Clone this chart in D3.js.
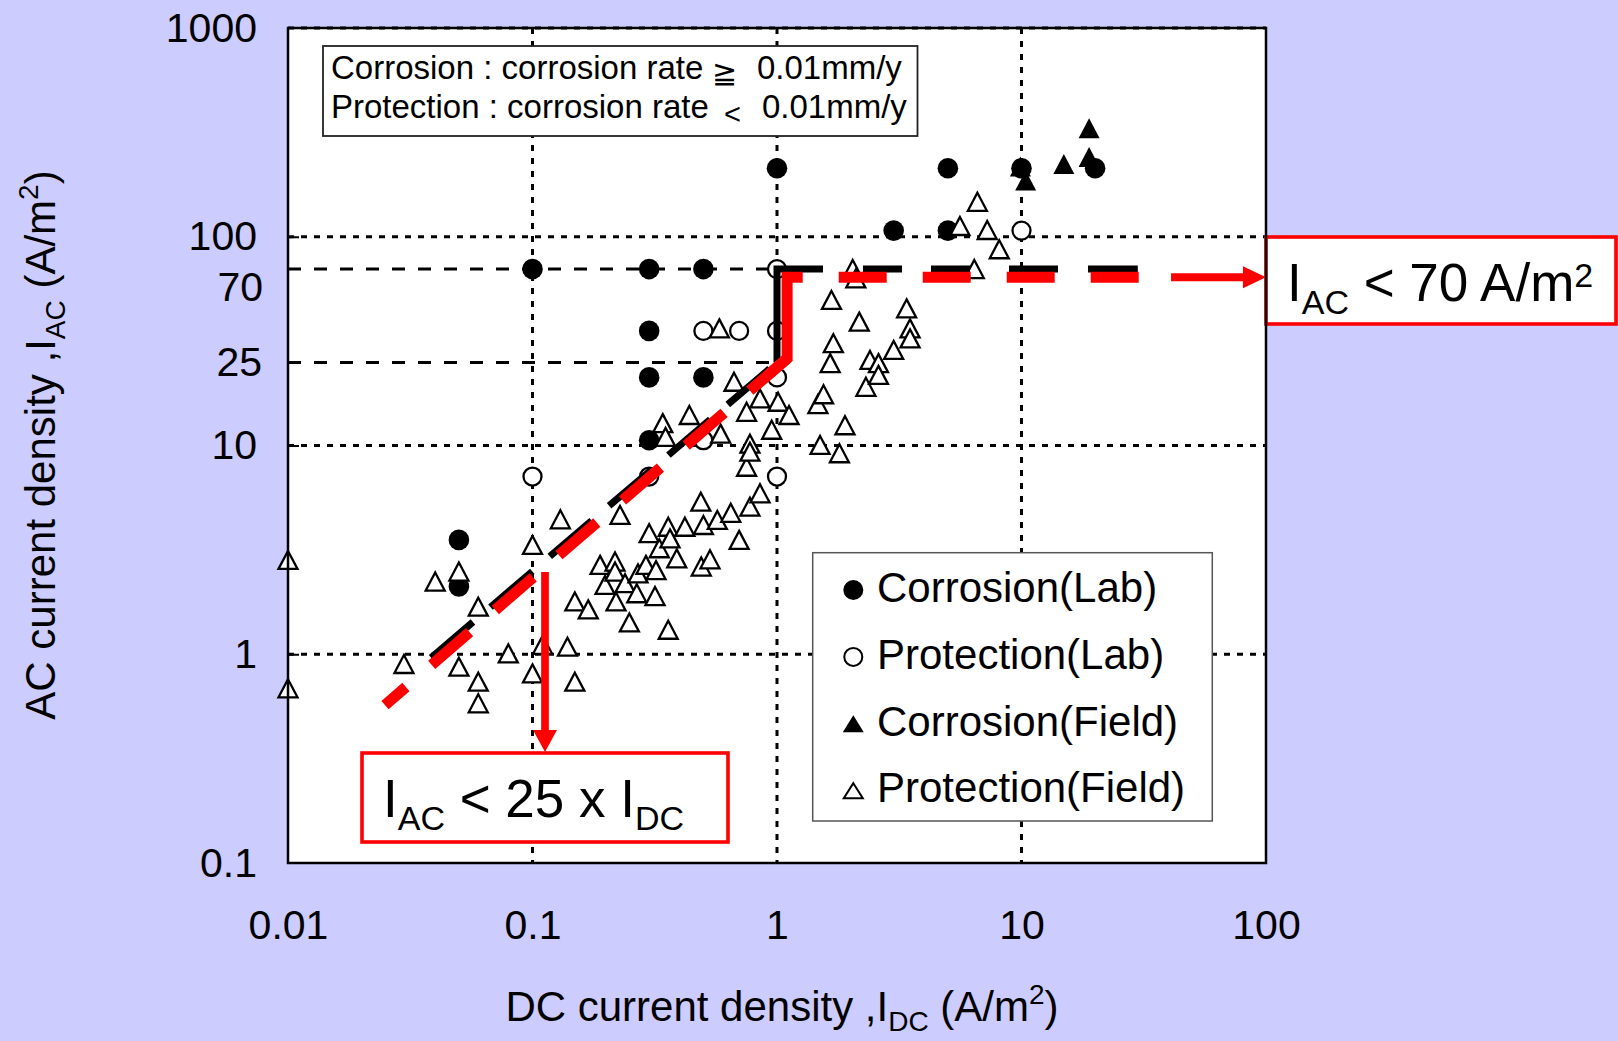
<!DOCTYPE html>
<html><head><meta charset="utf-8">
<script src="https://cdn.jsdelivr.net/npm/d3@7"></script>
<style>html,body{margin:0;padding:0;background:#CCCCFF;} svg{display:block}</style>
</head><body>
<svg id="c" width="1618" height="1041"></svg>
<script>
// ---------- data ----------
const xTicks = [0.01, 0.1, 1, 10, 100];
const xTickLabels = ["0.01", "0.1", "1", "10", "100"];
const yTicks = [0.1, 1, 10, 25, 70, 100, 1000];
const yTickLabels = ["0.1", "1", "10", "25", "70", "100", "1000"];
const gridX = [0.1, 1, 10];
const gridY = [1, 10, 100, 1000];
const refLevels = [25, 70];

const corrosionLab = [
  [0.1,70],[0.3,70],[0.5,70],[0.3,35.4],[0.3,21.2],[0.5,21.2],[0.3,10.6],
  [1,213],[5,213],[10,213],[20,213],[3,107],[5,107],[0.05,3.53],[0.05,2.11]
];
const protectionLab = [
  [1,70],[0.5,35.4],[0.7,35.4],[1,35.4],[1,21.2],[0.5,10.6],[0.1,7.1],[0.3,7.1],[1,7.1],[10,107]
];
const corrosionField = [[9.9,217],[10.4,186],[14.9,223],[18.9,241],[18.9,331]];
const protectionField = [
  [0.01,2.83],[0.01,0.687],
  [0.0298,0.898],[0.04,2.23],[0.05,2.49],[0.05,0.872],[0.06,1.69],[0.06,0.739],[0.06,0.582],
  [0.0796,1.01],[0.1,3.34],[0.1,0.81],[0.11,1.11],[0.13,4.43],[0.139,1.087],[0.149,0.739],
  [0.149,1.79],[0.169,1.64],[0.189,2.68],[0.198,2.15],[0.2175,2.78],[0.2175,2.49],[0.2196,1.79],
  [0.228,4.65],[0.239,2.19],[0.249,1.42],[0.267,1.96],[0.27,2.44],[0.291,2.68],[0.3,3.80],
  [0.317,1.90],[0.32,2.53],[0.33,3.22],[0.359,4.08],[0.359,1.31],[0.365,3.59],[0.389,2.88],
  [0.42,4.08],[0.488,5.38],[0.49,2.63],[0.5,4.16],[0.532,2.85],[0.57,4.40],[0.647,4.76],
  [0.70,3.53],[0.775,5.09],[0.852,5.90],[0.751,7.91],
  [0.341,12.8],[0.35,11.0],[0.438,14.0],[0.588,11.4],[0.581,36.4],[0.667,20.2],[0.751,14.5],
  [0.775,10.2],[0.775,9.34],[0.852,16.8],[0.951,11.9],[1.01,16.2],[1.12,14.0],
  [1.47,15.8],[1.55,17.6],[1.5,10.06],[1.80,9.18],[1.897,12.5],[1.65,24.8],[1.70,30.9],
  [1.67,49.8],[2.04,70],[2.1,63.2],[2.17,39.2],[2.31,19.1],[2.40,25.7],[2.60,24.8],[2.60,21.8],
  [3.0,28.7],[3.39,45.4],[3.5,36.4],[3.5,32.6],
  [5.6,112.6],[6.6,147],[7.24,107.7],[8.11,87.1],[6.41,70]
];

// criterion lines (data coords)
const blackDiag = [[0.0385,0.9625],[1,25]];
const blackStep = [[1,25],[1,70],[1.542,70]];
const blackHoriz = [[1.542,70],[29.9,70]];
const redDiag = [[0.02493,0.571],[1.1,26.1]];
const redStep = [[1.1,26.1],[1.1,64],[1.274,64]];
const redHoriz = [[1.274,64],[40.9,64]];
const redArrowH = [[40.9,64],[80.5,64],[100,64]];   // shaft start, head base, tip
const redArrowV = [[0.1125,2.48],[0.1125,0.434],[0.1125,0.34]];

const legendItems = ["Corrosion(Lab)","Protection(Lab)","Corrosion(Field)","Protection(Field)"];

// ---------- setup ----------
const FONT = '"Liberation Sans", Arial, Helvetica, sans-serif';
const W = 1618, H = 1041;
const x = d3.scaleLog().domain([0.01, 100]).range([288, 1266]);
const y = d3.scaleLog().domain([0.1, 1000]).range([863, 28]);
const svg = d3.select('#c');
const line = d3.line().x(d => x(d[0])).y(d => y(d[1]));

svg.append('rect').attr('width', W).attr('height', H).attr('fill', '#CCCCFF');
svg.append('rect').attr('x', x(0.01)).attr('y', y(1000))
  .attr('width', x(100) - x(0.01)).attr('height', y(0.1) - y(1000)).attr('fill', '#fff');

// grid
const g = svg.append('g').attr('stroke', '#000').attr('stroke-width', 3).attr('stroke-dasharray', '6 7');
gridX.forEach(v => g.append('line').attr('x1', x(v)).attr('x2', x(v)).attr('y1', y(1000)).attr('y2', y(0.1)));
gridY.forEach(v => g.append('line').attr('x1', x(0.01)).attr('x2', x(100)).attr('y1', y(v)).attr('y2', y(v)));

// reference dashed levels
refLevels.forEach(v => svg.append('line').attr('x1', x(0.01)).attr('x2', x(0.93))
  .attr('y1', y(v)).attr('y2', y(v)).attr('stroke', '#000').attr('stroke-width', 3).attr('stroke-dasharray', '13 13'));

// top definition box
const tb = svg.append('g');
tb.append('rect').attr('x', 323).attr('y', 46).attr('width', 594.5).attr('height', 90)
  .attr('fill', '#fff').attr('stroke', '#222').attr('stroke-width', 1.8);
const t1 = tb.append('text').attr('font-family', FONT).attr('font-size', 33).attr('fill', '#000');
t1.append('tspan').attr('x', 331).attr('y', 79).text('Corrosion : corrosion rate');
t1.append('tspan').attr('x', 712).attr('y', 83).attr('font-family', '"DejaVu Sans", sans-serif').attr('font-size', 30).text('≧');
t1.append('tspan').attr('x', 757).attr('y', 79).attr('font-family', FONT).attr('font-size', 33).text('0.01mm/y');
const t2 = tb.append('text').attr('font-family', FONT).attr('font-size', 33).attr('fill', '#000');
t2.append('tspan').attr('x', 331).attr('y', 118).text('Protection : corrosion rate');
t2.append('tspan').attr('x', 724).attr('y', 124).attr('font-size', 29).text('<');
t2.append('tspan').attr('x', 762).attr('y', 118).attr('font-size', 33).text('0.01mm/y');

// markers
const tri = (w, h) => `M0,${-h / 2}L${w / 2},${h / 2}L${-w / 2},${h / 2}Z`;
const mk = svg.append('g');
mk.selectAll('.cl').data(corrosionLab).join('circle')
  .attr('cx', d => x(d[0])).attr('cy', d => y(d[1])).attr('r', 10.3).attr('fill', '#000');
mk.selectAll('.pl').data(protectionLab).join('circle').attr('class', 'pl')
  .attr('cx', d => x(d[0])).attr('cy', d => y(d[1])).attr('r', 9).attr('fill', '#fff')
  .attr('stroke', '#000').attr('stroke-width', 2.3);
mk.selectAll('.cf').data(corrosionField).join('path').attr('class', 'cf')
  .attr('d', tri(21, 20)).attr('transform', d => `translate(${x(d[0])},${y(d[1])})`).attr('fill', '#000');
mk.selectAll('.pf').data(protectionField).join('path').attr('class', 'pf')
  .attr('d', tri(19, 18)).attr('transform', d => `translate(${x(d[0])},${y(d[1])})`)
  .attr('fill', '#fff').attr('stroke', '#000').attr('stroke-width', 2.3).attr('stroke-linejoin', 'miter');

// black criterion
svg.append('path').attr('d', line(blackDiag)).attr('fill', 'none').attr('stroke', '#000')
  .attr('stroke-width', 7).attr('stroke-dasharray', '55 23');
svg.append('path').attr('d', line(blackStep)).attr('fill', 'none').attr('stroke', '#000')
  .attr('stroke-width', 7).attr('stroke-linejoin', 'miter');
svg.append('path').attr('d', line(blackHoriz)).attr('fill', 'none').attr('stroke', '#000')
  .attr('stroke-width', 7).attr('stroke-dasharray', '0 40 39 29 39 39 49 30 50 400');

// red criterion
const RED = '#FF0000';
svg.append('path').attr('d', line(redDiag)).attr('fill', 'none').attr('stroke', RED)
  .attr('stroke-width', 11).attr('stroke-dasharray', '50 34').attr('stroke-dashoffset', 22.4);
const li = d3.interpolate([Math.log10(redDiag[0][0]), Math.log10(redDiag[0][1])],
                          [Math.log10(redDiag[1][0]), Math.log10(redDiag[1][1])]);
const lead = li(0.95).map(v => Math.pow(10, v));
svg.append('path').attr('d', line([lead].concat(redStep))).attr('fill', 'none').attr('stroke', RED)
  .attr('stroke-width', 11).attr('stroke-linejoin', 'miter');
svg.append('path').attr('d', line(redHoriz)).attr('fill', 'none').attr('stroke', RED)
  .attr('stroke-width', 11).attr('stroke-dasharray', '48 36').attr('stroke-dashoffset', 48);
// horizontal arrow
svg.append('path').attr('d', line(redArrowH.slice(0, 2))).attr('stroke', RED).attr('stroke-width', 8);
{
  const bx = x(redArrowH[1][0]), tx = x(redArrowH[2][0]), yy = y(redArrowH[2][1]);
  svg.append('path').attr('d', `M${bx},${yy - 11}L${tx},${yy}L${bx},${yy + 11}Z`).attr('fill', RED);
}
// vertical arrow
svg.append('path').attr('d', line(redArrowV.slice(0, 2))).attr('stroke', RED).attr('stroke-width', 7.7);
{
  const xx = x(redArrowV[0][0]), by = y(redArrowV[1][1]), ty = y(redArrowV[2][1]);
  svg.append('path').attr('d', `M${xx - 12},${by}L${xx},${ty}L${xx + 12},${by}Z`).attr('fill', RED);
}

// red boxes
function redBox(bx, by, bw, bh, tx, ty, parts) {
  svg.append('rect').attr('x', bx).attr('y', by).attr('width', bw).attr('height', bh)
    .attr('fill', '#fff').attr('stroke', RED).attr('stroke-width', 3.6);
  const t = svg.append('text').attr('x', tx).attr('y', ty).attr('font-family', FONT)
    .attr('font-size', 53).attr('fill', '#000');
  parts.forEach(p => {
    const s = t.append('tspan').text(p.t);
    if (p.sub) s.attr('font-size', 34).attr('dy', 13);
    if (p.sup) s.attr('font-size', 34).attr('dy', -14);
    if (p.back) s.attr('dy', p.back);
  });
}
redBox(362, 753, 366, 89, 383, 817, [
  {t: 'I'}, {t: 'AC', sub: true}, {t: ' < 25 x I', back: -13}, {t: 'DC', sub: true}
]);
redBox(1266, 237, 350, 87, 1287, 301, [
  {t: 'I'}, {t: 'AC', sub: true}, {t: ' < 70 A/m', back: -13}, {t: '2', sup: true}
]);

// legend
const lg = svg.append('g');
lg.append('rect').attr('x', 812.7).attr('y', 552.7).attr('width', 399.6).attr('height', 268.3)
  .attr('fill', '#fff').attr('stroke', '#555').attr('stroke-width', 1.5);
const rowY = i => 590 + i * 66.9;
legendItems.forEach((name, i) => {
  const cy = rowY(i), cx = 853.3;
  if (i === 0) lg.append('circle').attr('cx', cx).attr('cy', cy).attr('r', 10).attr('fill', '#000');
  if (i === 1) lg.append('circle').attr('cx', cx).attr('cy', cy).attr('r', 9).attr('fill', '#fff').attr('stroke', '#000').attr('stroke-width', 2);
  if (i === 2) lg.append('path').attr('d', tri(21, 17)).attr('transform', `translate(${cx},${cy})`).attr('fill', '#000');
  if (i === 3) lg.append('path').attr('d', tri(19, 15)).attr('transform', `translate(${cx},${cy})`).attr('fill', '#fff').attr('stroke', '#000').attr('stroke-width', 2);
  lg.append('text').attr('x', 877).attr('y', cy + 11.7).attr('font-family', FONT).attr('font-size', 42)
    .attr('fill', '#000').text(name);
});

// border
svg.append('rect').attr('x', x(0.01)).attr('y', y(1000))
  .attr('width', x(100) - x(0.01)).attr('height', y(0.1) - y(1000))
  .attr('fill', 'none').attr('stroke', '#000').attr('stroke-width', 2.5);

// axes
const ya = svg.append('g').attr('transform', `translate(${x(0.01)},0)`)
  .call(d3.axisLeft(y).tickValues(yTicks).tickFormat((d, i) => yTickLabels[i])
    .tickSizeInner(-11).tickSizeOuter(0).tickPadding(31));
ya.select('.domain').remove();
ya.selectAll('.tick line').attr('stroke', '#000').attr('stroke-width', 2)
  .filter(d => ![1, 10, 100].includes(d)).remove();
ya.selectAll('.tick text').attr('font-family', FONT).attr('font-size', 41).attr('fill', '#000');
ya.selectAll('.tick').filter(d => d === 70).select('text').attr('x', -25).attr('dy', '0.32em')
  .attr('transform', 'translate(0,18)');
ya.selectAll('.tick').filter(d => d === 25).select('text').attr('x', -26);

const xa = svg.append('g').attr('transform', `translate(0,${y(0.1)})`)
  .call(d3.axisBottom(x).tickValues(xTicks).tickFormat((d, i) => xTickLabels[i])
    .tickSize(0).tickPadding(47));
xa.select('.domain').remove();
xa.selectAll('.tick text').attr('font-family', FONT).attr('font-size', 41).attr('fill', '#000');

// axis titles
const xt = svg.append('text').attr('x', 782).attr('y', 1021).attr('text-anchor', 'middle')
  .attr('font-family', FONT).attr('font-size', 42).attr('fill', '#000');
xt.append('tspan').text('DC current density ,I');
xt.append('tspan').attr('font-size', 28).attr('dy', 10).text('DC');
xt.append('tspan').attr('dy', -10).text(' (A/m');
xt.append('tspan').attr('font-size', 28).attr('dy', -17).text('2');
xt.append('tspan').attr('dy', 17).text(')');

const yt = svg.append('text').attr('transform', 'translate(55,445) rotate(-90)').attr('text-anchor', 'middle')
  .attr('font-family', FONT).attr('font-size', 42).attr('fill', '#000');
yt.append('tspan').text('AC current density ,I');
yt.append('tspan').attr('font-size', 28).attr('dy', 10).text('AC');
yt.append('tspan').attr('dy', -10).text(' (A/m');
yt.append('tspan').attr('font-size', 28).attr('dy', -17).text('2');
yt.append('tspan').attr('dy', 17).text(')');
</script>
</body></html>
